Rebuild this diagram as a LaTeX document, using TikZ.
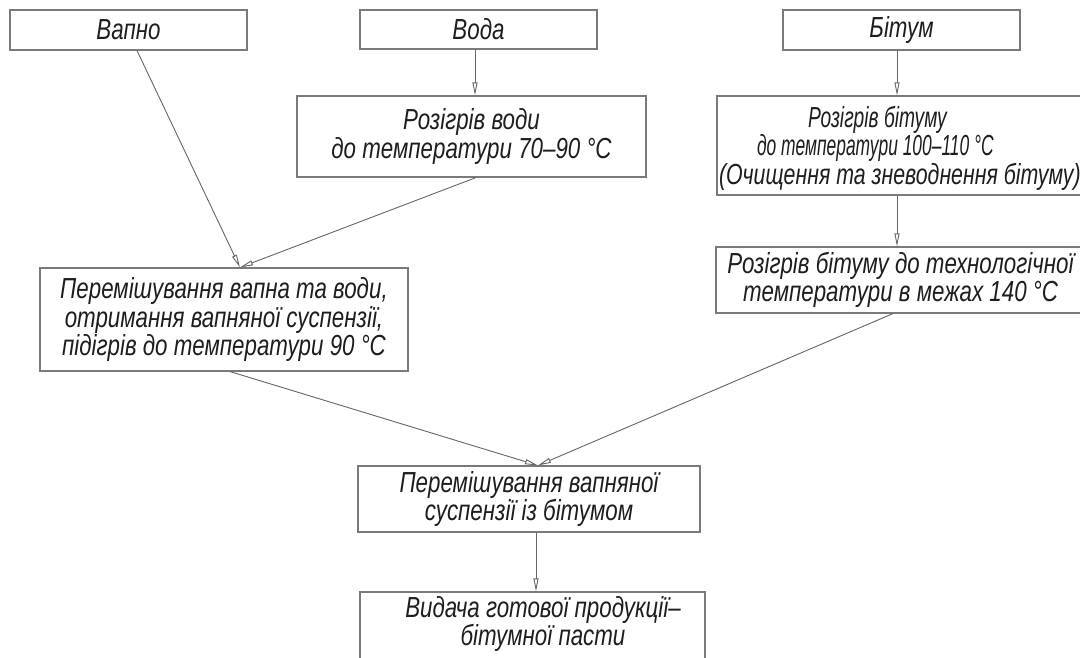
\documentclass[tikz,border=0pt]{standalone}
\usepackage{fontspec}
\usepackage{graphicx}
\setmainfont{Liberation Sans}[FakeStretch=0.77]
\usetikzlibrary{arrows.meta}
\definecolor{boxgray}{HTML}{7A7A7A}
\definecolor{linegray}{HTML}{666666}
\definecolor{txt}{HTML}{1E1E1E}
\newcommand\diagfont{\fontsize{29}{28.5}\selectfont\itshape}
\newcommand\lineat[3]{\makebox[362pt][l]{\hspace*{#1}\scalebox{#2}[1]{#3}}}
\begin{document}
\begin{tikzpicture}[x=1pt,y=-1pt,
  box/.style={draw=boxgray,line width=1.1pt,rectangle,inner sep=0pt,align=center,font=\diagfont,text=txt},
  lbl/.style={inner sep=0pt,align=center,font=\diagfont,text=txt},
  arr/.style={draw=linegray,line width=0.9pt,-{Triangle[open,length=13pt,width=5pt]}}]
\clip (0,0) rectangle (1080,657);
\fill[white] (0,0) rectangle (1080,657);
% top row
\node[box,minimum width=237pt,minimum height=40pt] (vapno) at (128.5,30) {Вапно};
\node[box,minimum width=237pt,minimum height=39pt] (voda) at (478.5,29.5) {Вода};
\node[box,minimum width=237pt,minimum height=40pt] (bitum) at (901.5,30) {Бітум};
% second row
\node[box,minimum width=349pt,minimum height=81pt] (heatw) at (471.5,136.5) {Розігрів води\\до температури 70–90 °C};
\node[box,minimum width=368pt,minimum height=99pt] (heatb) at (901,145.5) {};
\node[lbl] (heatbt) at (900,148) {\lineat{89pt}{0.86}{Розігрів бітуму}\\\lineat{38pt}{0.78}{до температури 100–110 °C}\\\lineat{0pt}{0.955}{(Очищення та зневоднення бітуму)}};
% third row
\node[box,minimum width=368pt,minimum height=103pt] (mix1) at (224,319.5) {Перемішування вапна та води,\\отримання вапняної суспензії,\\підігрів до температури 90 °C};
\node[box,minimum width=369pt,minimum height=66pt] (tech) at (900.5,280) {Розігрів бітуму до технологічної\\температури в межах 140 °C};
% lower
\node[box,minimum width=342pt,minimum height=66pt] (mix2) at (529,499) {Перемішування вапняної\\суспензії із бітумом};
\node[box,minimum width=345pt,minimum height=90pt] (out) at (532.5,637) {};
\node[lbl] (outt) at (543,624) {Видача готової продукції–\\бітумної пасти};
% connectors
\draw[arr] ([xshift=8.5pt]vapno.south) -- ([xshift=16pt]mix1.north);
\draw[arr] ([xshift=4.5pt]heatw.south) -- ([xshift=16pt]mix1.north);
\draw[arr] ([xshift=-3.5pt]voda.south) -- ([xshift=3.5pt]heatw.north);
\draw[arr] ([xshift=-4.5pt]bitum.south) -- ([xshift=-4pt]heatb.north);
\draw[arr] ([xshift=-4pt]heatb.south) -- ([xshift=-3.5pt]tech.north);
\draw[arr] ([xshift=6pt]mix1.south) -- ([xshift=9pt]mix2.north);
\draw[arr] ([xshift=-7.5pt]tech.south) -- ([xshift=9pt]mix2.north);
\draw[arr] ([xshift=7pt]mix2.south) -- ([xshift=3.5pt]out.north);
\end{tikzpicture}
\end{document}
